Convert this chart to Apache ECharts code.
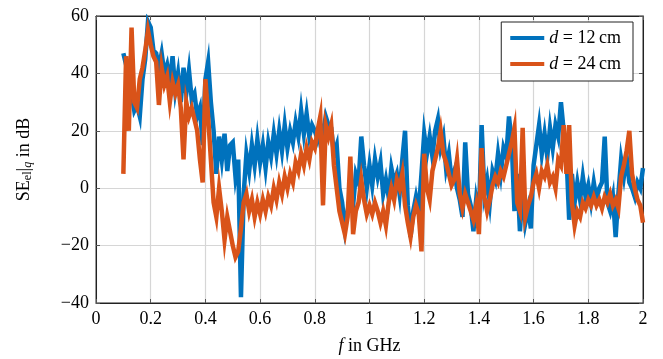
<!DOCTYPE html>
<html>
<head>
<meta charset="utf-8">
<script src="https://cdn.jsdelivr.net/npm/echarts@6/dist/echarts.min.js"></script>
<style>html,body{margin:0;padding:0;background:#fff}#c{width:663px;height:359px}</style>
</head>
<body>
<div id="c"></div>
<script>
// frequency grid in GHz: 0.10 ... 2.00, step 0.01
const freqStart = 0.10;
const freqStep = 0.01;
// SE values (dB), d = 12 cm
const se12 = [
47,43,38,33,27,29,25,38,45,58,
56,48,47,42,47,40,43,37,46,34,
40,30,42,33,41,31,33,25,28,15,
38,44,30,20,5,18,10,19,6,15,
16,4,10,-38,-2,12,6,15,8,17,
9,15,7,16,11,19,12,20,13,22,
14,20,16,23,18,27,19,26,18,22,
20,17,22,19,25,22,21,12,15,0,
-5,-14,-8,-2,-6,5,2,18,8,0,
8,1,10,4,9,-2,3,-3,7,2,
5,-2,10,20,-6,-17,-8,-3,-8,5,
19,12,18,11,20,24,14,18,7,12,
3,6,0,-4,-10,16,-2,-6,-15,-4,
-10,22,-2,3,-5,6,3,12,5,14,
11,25,16,-8,5,-15,0,-12,-7,-14,
8,15,22,12,19,11,21,14,22,18,
30,20,12,-11,5,-5,2,-4,4,-3,
1,-5,2,-4,0,2,18,-5,-8,-3,
-17,-2,10,4,11,2,0,-3,2,0,
7
];
// SE values (dB), d = 24 cm
const se24 = [
5,46,20,56,30,28,38,42,48,55,
50,46,44,29,42,36,39,30,37,33,
36,28,10,30,25,28,24,20,10,2,
38,25,10,-5,-10,0,-8,-18,-10,-15,
-20,-24,-22,-14,-5,-2,-8,-4,-10,-5,
-9,-4,-8,-3,-6,0,-4,2,-2,4,
0,5,2,9,6,12,8,14,10,16,
14,20,25,-6,22,18,22,8,0,-8,
-12,-16,-10,11,-16,-8,-5,3,-4,-9,
-6,-9,-5,-8,-12,-8,-13,-5,0,-4,
3,0,5,-6,-12,-17,-10,-6,-9,-22,
12,0,-4,6,10,14,20,12,9,5,
1,3,10,-2,-7,-2,-5,-8,-11,-6,
-16,14,-3,-8,-4,1,4,2,6,4,
8,12,16,21,-5,-8,21,-10,-6,-3,
2,5,0,6,4,8,2,4,0,10,
8,22,5,22,-5,-13,-8,-10,-5,-7,
-4,-6,-3,-6,-4,-7,-3,-5,-2,-6,
-4,-7,4,8,13,20,5,0,-4,-6,
-12
];
const xTicks = {min: 0, max: 2, interval: 0.2};
const yTicks = {min: -40, max: 60, interval: 20};

function pairs(vals) {
  return vals.map((v, i) => [+(freqStart + i * freqStep).toFixed(3), v]);
}

const FONT = 'Liberation Serif';
const chart = echarts.init(document.getElementById('c'), null, {renderer: 'canvas'});
const tickStyle = {show: true, inside: true, length: 4, lineStyle: {color: '#555', width: 1}};
const gridLine = {show: true, lineStyle: {color: '#d6d6d6', width: 1.2}};
chart.setOption({
  animation: false,
  backgroundColor: '#fff',
  grid: {left: 96, right: 20, top: 16, bottom: 56, show: true, borderColor: '#222', borderWidth: 1,
         containLabel: false, outerBoundsMode: 'none'},
  legend: {
    right: 30, top: 22,
    orient: 'vertical',
    backgroundColor: '#fff',
    borderColor: '#222', borderWidth: 1,
    padding: [7, 12, 8, 9],
    itemGap: 8,
    itemWidth: 34, itemHeight: 4,
    icon: 'rect',
    textStyle: {
      fontFamily: FONT, fontSize: 18, color: '#000',
      rich: {i: {fontFamily: FONT, fontStyle: 'italic', fontSize: 18, color: '#000'},
             t: {fontFamily: FONT, fontSize: 18, color: '#000'}}
    },
    formatter: function (name) {
      return name === 's12' ? '{i|d}{t| = 12\u2009cm}' : '{i|d}{t| = 24\u2009cm}';
    }
  },
  xAxis: [{
    type: 'value', min: xTicks.min, max: xTicks.max, interval: xTicks.interval,
    position: 'bottom',
    axisLine: {show: true, onZero: false, lineStyle: {color: '#222', width: 1}},
    axisTick: tickStyle,
    splitLine: gridLine,
    axisLabel: {fontFamily: FONT, fontSize: 18, color: '#000', margin: 7},
    name: '{i|f}{t| in GHz}', nameLocation: 'middle', nameGap: 34,
    nameTextStyle: {rich: {i: {fontFamily: FONT, fontStyle: 'italic', fontSize: 18, color: '#000'},
                           t: {fontFamily: FONT, fontSize: 18, color: '#000'}}}
  }, {
    type: 'value', min: xTicks.min, max: xTicks.max, interval: xTicks.interval,
    position: 'top',
    axisLine: {show: true, onZero: false, lineStyle: {color: '#222', width: 1}},
    axisTick: tickStyle, axisLabel: {show: false}, splitLine: {show: false}
  }],
  yAxis: [{
    type: 'value', min: yTicks.min, max: yTicks.max, interval: yTicks.interval,
    position: 'left',
    axisLine: {show: true, onZero: false, lineStyle: {color: '#222', width: 1}},
    axisTick: tickStyle,
    splitLine: gridLine,
    axisLabel: {fontFamily: FONT, fontSize: 18, color: '#000', margin: 7,
      formatter: v => (v < 0 ? '\u2212' + Math.abs(v) : String(v))},
    name: '{t|SE}{s|el}{t||}{q|q}{t| in dB}', nameLocation: 'middle', nameGap: 62, nameRotate: 90,
    nameTextStyle: {rich: {
      t: {fontFamily: FONT, fontSize: 18, color: '#000'},
      s: {fontFamily: FONT, fontSize: 12, color: '#000', verticalAlign: 'bottom', padding: [8, 0, 0, 0]},
      q: {fontFamily: FONT, fontSize: 12, fontStyle: 'italic', color: '#000', verticalAlign: 'bottom', padding: [8, 0, 0, 0]}
    }}
  }, {
    type: 'value', min: yTicks.min, max: yTicks.max, interval: yTicks.interval,
    position: 'right',
    axisLine: {show: true, onZero: false, lineStyle: {color: '#222', width: 1}},
    axisTick: tickStyle, axisLabel: {show: false}, splitLine: {show: false}
  }],
  series: [{
    name: 's12', type: 'line', data: pairs(se12), showSymbol: false, symbol: 'none',
    lineStyle: {color: '#0072BD', width: 4.5, join: 'miter'}, itemStyle: {color: '#0072BD'}, z: 2
  }, {
    name: 's24', type: 'line', data: pairs(se24), showSymbol: false, symbol: 'none',
    lineStyle: {color: '#D95319', width: 4.5, join: 'miter'}, itemStyle: {color: '#D95319'}, z: 3
  }]
});
</script>
</body>
</html>
